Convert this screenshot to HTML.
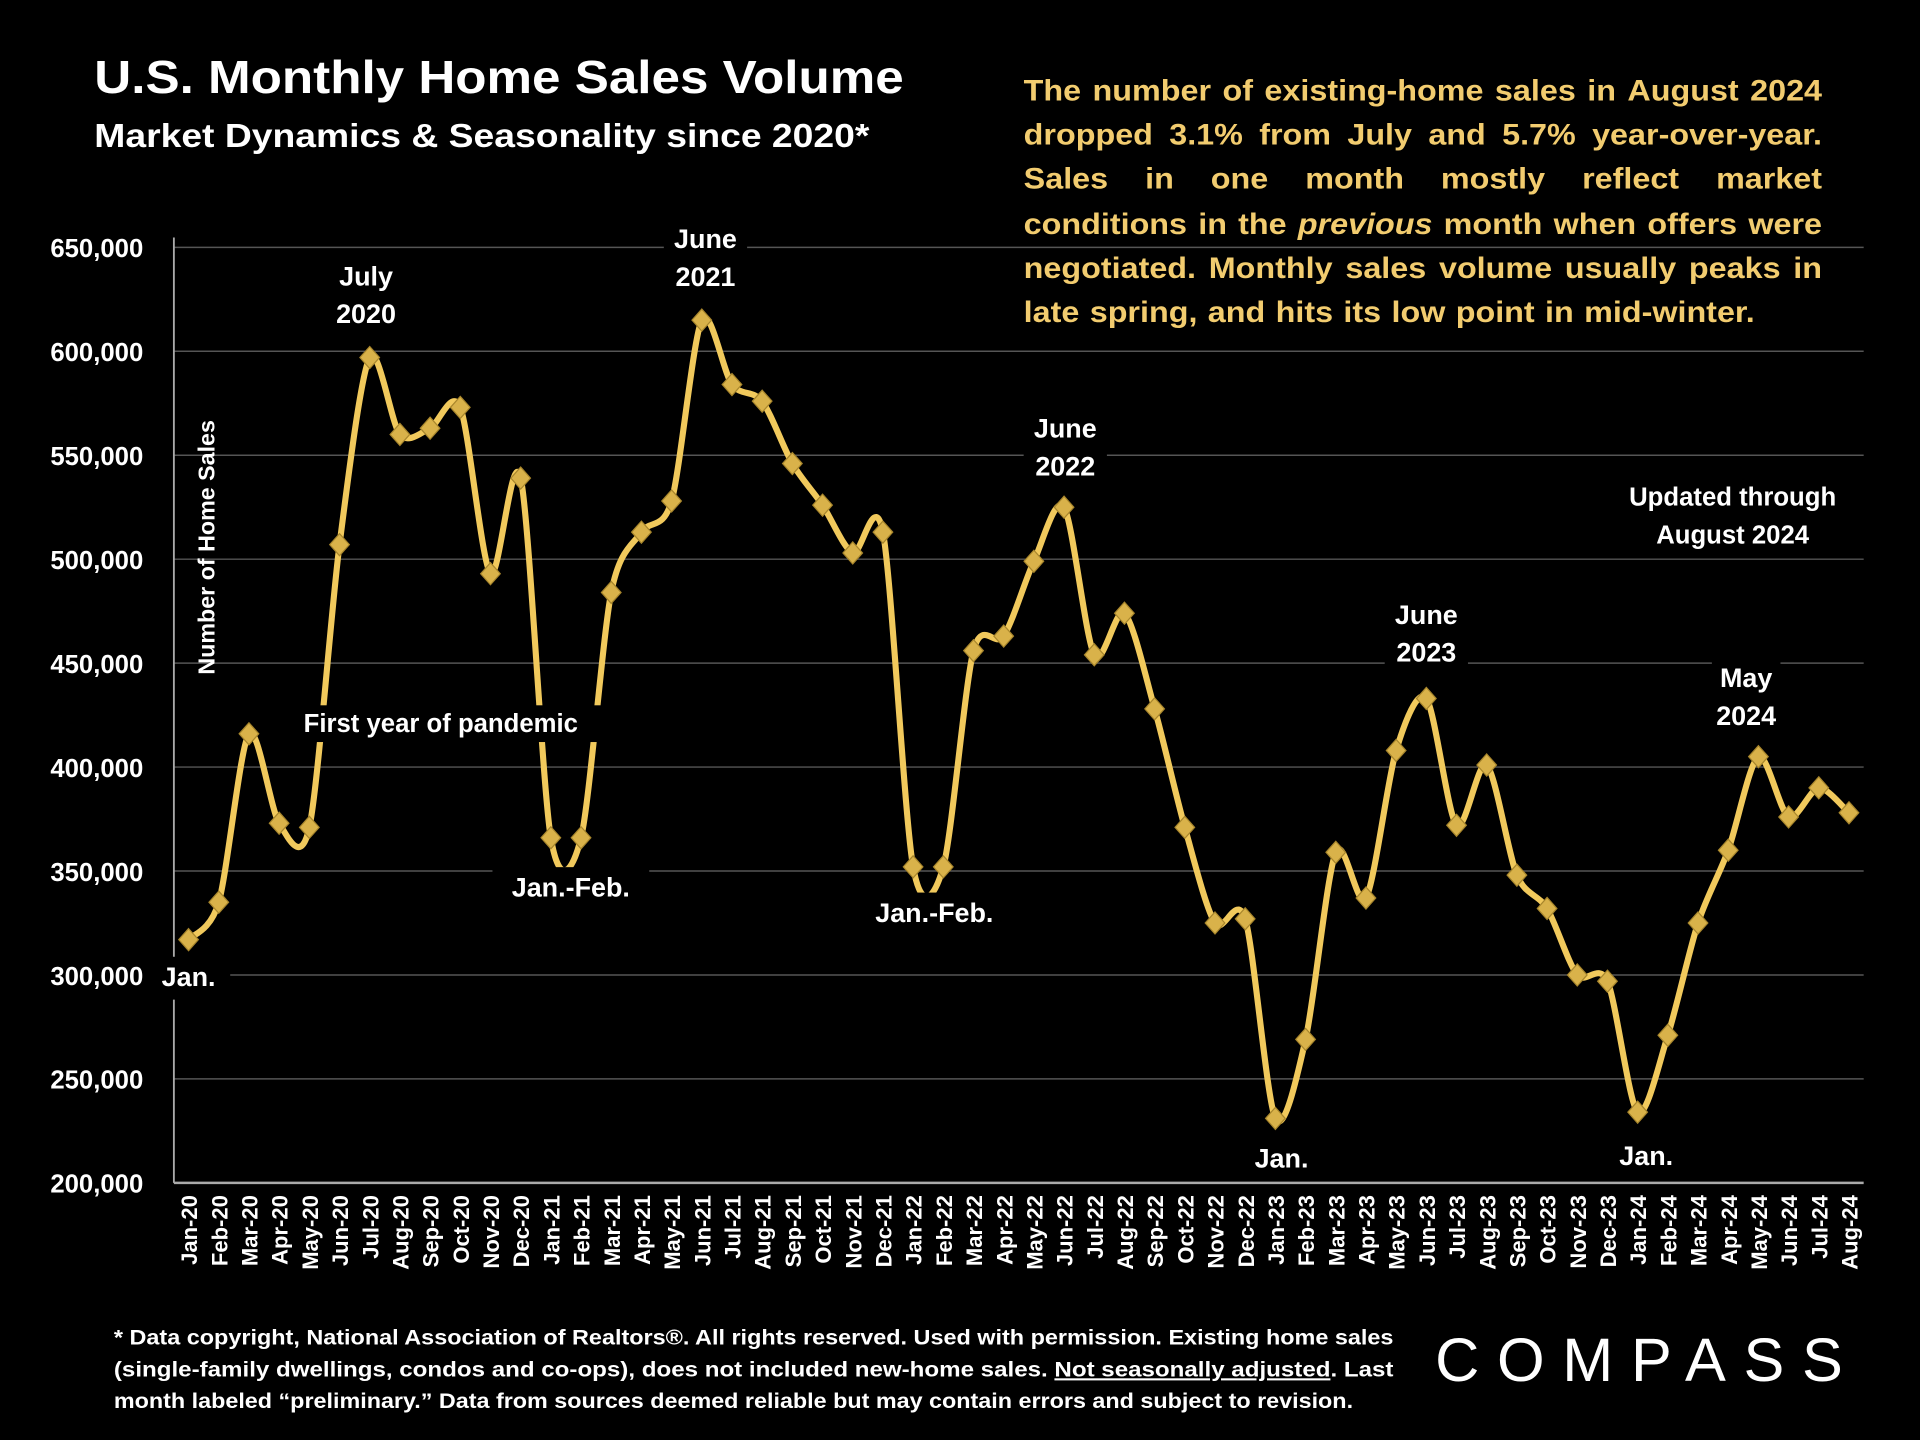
<!DOCTYPE html>
<html><head><meta charset="utf-8"><style>
html,body{margin:0;padding:0;background:#000;width:1920px;height:1440px;overflow:hidden}
svg{display:block}
text{font-family:"Liberation Sans",sans-serif;font-weight:bold}
</style></head><body>
<svg id="chart" width="1920" height="1440" viewBox="0 0 1568 1176" xmlns="http://www.w3.org/2000/svg">
<rect width="1568" height="1176" fill="#000"/>
<text x="77" y="76" fill="#fff" font-size="38" textLength="661" lengthAdjust="spacingAndGlyphs">U.S. Monthly Home Sales Volume</text>
<text x="77" y="120" fill="#fff" font-size="27" textLength="633" lengthAdjust="spacingAndGlyphs">Market Dynamics &amp; Seasonality since 2020*</text>
<g id="grid"></g>
<g id="yticks"></g>
<g id="xticks"></g>
<path id="line" fill="none" stroke="#f1c95c" stroke-width="5"/>
<g id="marks"></g>
<g id="annots"></g>
<text transform="translate(175,447) rotate(-90)" text-anchor="middle" fill="#fff" font-size="19">Number of Home Sales</text>
<g id="commentary" fill="#f2cc6f" font-size="24"></g>
<g fill="#fff" font-size="17">
<text x="93" y="1098" textLength="1045" lengthAdjust="spacingAndGlyphs">* Data copyright, National Association of Realtors®. All rights reserved. Used with permission. Existing home sales</text>
<text x="93" y="1124" textLength="1045" lengthAdjust="spacingAndGlyphs">(single-family dwellings, condos and co-ops), does not included new-home sales. <tspan text-decoration="underline">Not seasonally adjusted</tspan>. Last</text>
<text x="93" y="1150" textLength="1012" lengthAdjust="spacingAndGlyphs">month labeled “preliminary.” Data from sources deemed reliable but may contain errors and subject to revision.</text>
</g>
<text x="1172" y="1128" fill="#fff" font-size="50" style="font-weight:normal" textLength="333" lengthAdjust="spacing">COMPASS</text>
</svg>
<script>
const categories=["Jan-20","Feb-20","Mar-20","Apr-20","May-20","Jun-20","Jul-20","Aug-20","Sep-20","Oct-20","Nov-20","Dec-20","Jan-21","Feb-21","Mar-21","Apr-21","May-21","Jun-21","Jul-21","Aug-21","Sep-21","Oct-21","Nov-21","Dec-21","Jan-22","Feb-22","Mar-22","Apr-22","May-22","Jun-22","Jul-22","Aug-22","Sep-22","Oct-22","Nov-22","Dec-22","Jan-23","Feb-23","Mar-23","Apr-23","May-23","Jun-23","Jul-23","Aug-23","Sep-23","Oct-23","Nov-23","Dec-23","Jan-24","Feb-24","Mar-24","Apr-24","May-24","Jun-24","Jul-24","Aug-24"];
const sales=[317000,335000,416000,373000,371000,507000,597000,560000,563000,573000,493000,539000,366000,366000,484000,513000,528000,615000,584000,576000,546000,526000,503000,513000,352000,352000,456000,463000,499000,525000,454000,474000,428000,371000,325000,327000,231000,269000,359000,337000,408000,433000,372000,401000,348000,332000,300000,297000,234000,271000,325000,360000,405000,376000,390000,378000];
const yTicks=[200000,250000,300000,350000,400000,450000,500000,550000,600000,650000];
const annotations=[
 {i:6,lines:["July","2020"],dy:-59,dx:-3},{i:17,lines:["June","2021"],dy:-59,dx:3},{i:29,lines:["June","2022"],dy:-57,dx:1},
 {i:41,lines:["June","2023"],dy:-61,dx:0},{i:52,lines:["May","2024"],dy:-57,dx:-10},
 {i:0,lines:["Jan."],dy:38,dx:0},{i:12.5,lines:["Jan.-Feb."],dy:48,dx:4},{i:24.5,lines:["Jan.-Feb."],dy:45,dx:5},
 {i:36,lines:["Jan."],dy:40,dx:5},{i:48,lines:["Jan."],dy:43,dx:7}];
const comment=["The number of existing-home sales in August 2024","dropped 3.1% from July and 5.7% year-over-year.","Sales in one month mostly reflect market","conditions in the *previous* month when offers were","negotiated. Monthly sales volume usually peaks in","late spring, and hits its low point in mid-winter."];
const NS="http://www.w3.org/2000/svg";
const x0=154,x1=1510,y0=966,y1=202,ymin=200000,ymax=650000;
const xs=i=>x0+(x1-x0)*i/(categories.length-1);
const ys=v=>y0-(v-ymin)/(ymax-ymin)*(y0-y1);
function mk(t,a,p){const e=document.createElementNS(NS,t);for(const k in a)e.setAttribute(k,a[k]);p.appendChild(e);return e;}
const grid=document.getElementById('grid'),yt=document.getElementById('yticks'),xt=document.getElementById('xticks');
yTicks.forEach(v=>{
 const l=mk('line',{x1:142,x2:1522,y1:ys(v),y2:ys(v),stroke:v===ymin?'#aaa':'#555','stroke-width':v===ymin?2:1.2},grid);
 
 
 const t=mk('text',{x:117,y:ys(v)+8,'text-anchor':'end',fill:'#fff','font-size':21},yt);
 t.textContent=v.toLocaleString('en-US');
 
 
});
const ax=mk('line',{x1:142,x2:142,y1:y1-8,y2:y0,stroke:'#aaa','stroke-width':1.5},grid);


categories.forEach((c,i)=>{
 const t=mk('text',{transform:`translate(${xs(i)+7},${976}) rotate(-90)`,'text-anchor':'end',fill:'#fff','font-size':18},xt);
 t.textContent=c;
 
 
});
const P=sales.map((v,i)=>[xs(i),ys(v)]);
const k=1/7;
let d=`M${P[0][0]},${P[0][1]}`;
for(let i=0;i<P.length-1;i++){const p0=P[i-1]||P[i],p1=P[i],p2=P[i+1],p3=P[i+2]||P[i+1];
 d+=` C${p1[0]+(p2[0]-p0[0])*k},${p1[1]+(p2[1]-p0[1])*k} ${p2[0]-(p3[0]-p1[0])*k},${p2[1]-(p3[1]-p1[1])*k} ${p2[0]},${p2[1]}`;}
document.getElementById('line').setAttribute('d',d);
const marks=document.getElementById('marks');
P.forEach(p=>{const m=mk('polygon',{points:`${p[0]},${p[1]-9} ${p[0]+8},${p[1]} ${p[0]},${p[1]+9} ${p[0]-8},${p[1]}`,fill:'#d9b24a',stroke:'#a8862c','stroke-width':1},marks);
 
 });
const an=document.getElementById('annots');
annotations.forEach(a=>{const cx=xs(a.i)+a.dx,v=Number.isInteger(a.i)?sales[a.i]:(sales[Math.floor(a.i)]+sales[Math.ceil(a.i)])/2;const cy=ys(v)+a.dy;
 const g=mk('g',{},an);
 
 
 const w=a.lines[0].length*12+20;
 mk('rect',{x:cx-w/2,y:cy-24,width:w,height:a.lines.length*31+4,fill:'#000'},g);
 a.lines.forEach((s,k)=>{const t=mk('text',{x:cx,y:cy+k*31,'text-anchor':'middle',fill:'#fff','font-size':22},g);t.textContent=s;});});
[[360,598,"First year of pandemic",'pandemic-label'],[1415,413,"Updated through",'updated-label'],[1415,444,"August 2024",'updated-label']].forEach(r=>{
 const g=mk('g',{},an);
 
 
 mk('rect',{x:r[0]-r[2].length*6,y:r[1]-22,width:r[2].length*12,height:30,fill:'#000'},g);
 const t=mk('text',{x:r[0],y:r[1],'text-anchor':'middle',fill:'#fff','font-size':21},g);t.textContent=r[2];});
// justified commentary with glyph widening
const cg=document.getElementById('commentary');
const LX=836,RX=1488,lineY=[82,118,154,191,227,263];
comment.forEach((line,li)=>{
 const words=line.split(' ');
 const last=li===comment.length-1;
 const els=words.map(w=>{const it=w.startsWith('*');const t=mk('text',{x:0,y:lineY[li]},cg);
  if(it)t.setAttribute('font-style','italic');t.textContent=w.replace(/\*/g,'');return t;});
 const nat=els.map(e=>e.getComputedTextLength());
 const natTot=nat.reduce((a,b)=>a+b,0);
 const spaceW=6.7;
 const target=last?597:(RX-LX);
 // scale glyphs so that with normal spaces the line fits, capped at 1.12
 let s=(target-spaceW*(words.length-1))/natTot;
 s=Math.min(s,1.1);
 const ws=nat.map(w=>w*s);
 ws.forEach((w,j)=>{els[j].setAttribute('textLength',w);els[j].setAttribute('lengthAdjust','spacingAndGlyphs');});
 const tot=ws.reduce((a,b)=>a+b,0);
 const gap=(target-tot)/(words.length-1);
 let x=LX;els.forEach((e,j)=>{e.setAttribute('x',x);x+=ws[j]+gap;});
});
</script>
</body></html>
